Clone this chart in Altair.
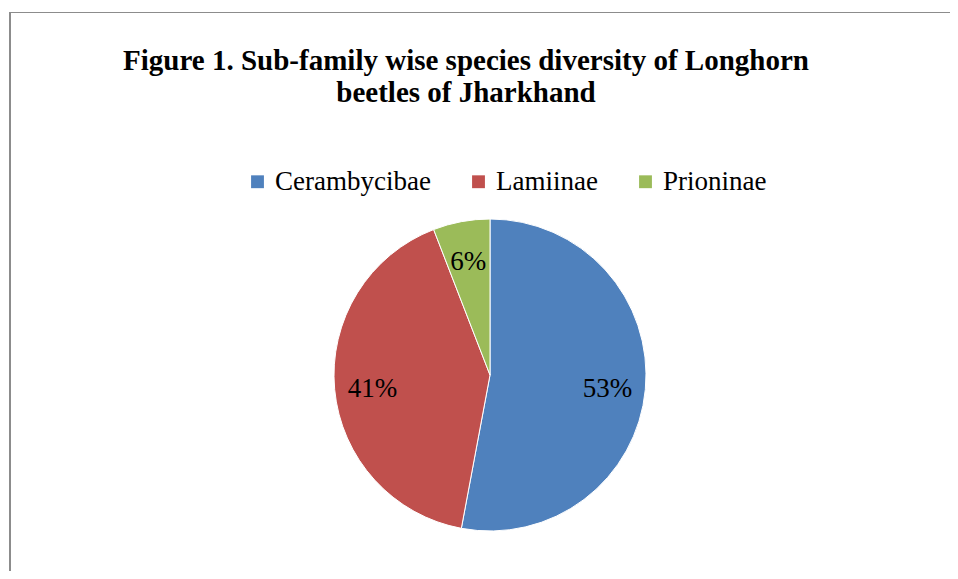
import altair as alt
import pandas as pd

categories = ["Cerambycibae", "Lamiinae", "Prioninae"]
species_counts = [27, 21, 3]
percent_labels = ["53%", "41%", "6%"]
colors = ["#4F81BD", "#C0504D", "#9BBB59"]
title_lines = ["Figure 1. Sub-family wise species diversity of Longhorn", "beetles of Jharkhand"]

df = pd.DataFrame({"subfamily": categories, "count": species_counts, "label": percent_labels})

FONT = "Liberation Serif"
CX, CY = 482, 367

base = alt.Chart(df).encode(
    theta=alt.Theta("count:Q", stack=True),
    order=alt.Order("subfamily:N", sort="ascending"),
)

arcs = base.mark_arc(outerRadius=156, stroke="white", strokeWidth=1).encode(
    color=alt.Color(
        "subfamily:N",
        scale=alt.Scale(domain=categories, range=colors),
        legend=alt.Legend(
            title=None,
            orient="none",
            direction="horizontal",
            legendX=236,
            legendY=160,
            symbolType="square",
            symbolSize=165,
            symbolStrokeWidth=0,
            labelFont=FONT,
            labelFontSize=27,
            labelColor="black",
            labelOffset=4,
            columnPadding=34,
            columns=3,
        ),
    ),
    x=alt.value(CX),
    y=alt.value(CY),
)

texts = base.mark_text(radius=118, dy=3, font=FONT, fontSize=27, color="black").encode(
    text="label:N",
    x=alt.value(CX),
    y=alt.value(CY),
)

border_df = pd.DataFrame({"k": [0]})
left_line = alt.Chart(border_df).mark_rule(color="#8c8c8c", strokeWidth=2).encode(
    x=alt.value(2), y=alt.value(4), y2=alt.value(563)
)
top_line = alt.Chart(border_df).mark_rule(color="#8c8c8c", strokeWidth=1).encode(
    x=alt.value(1), x2=alt.value(942), y=alt.value(4.5)
)

chart = alt.layer(left_line, top_line, arcs, texts).properties(
    width=942,
    height=563,
    autosize=alt.AutoSizeParams(type="none"),
    padding=0,
    title=alt.TitleParams(
        text=title_lines,
        font=FONT,
        fontSize=29,
        fontWeight="bold",
        color="black",
        anchor="middle",
        frame="group",
        orient="top",
        baseline="top",
        offset=-100,
        dx=-13,
        lineHeight=32,
    ),
).configure_view(stroke=None)

chart.save("out.html", embed_options={"renderer": "svg", "actions": False})
